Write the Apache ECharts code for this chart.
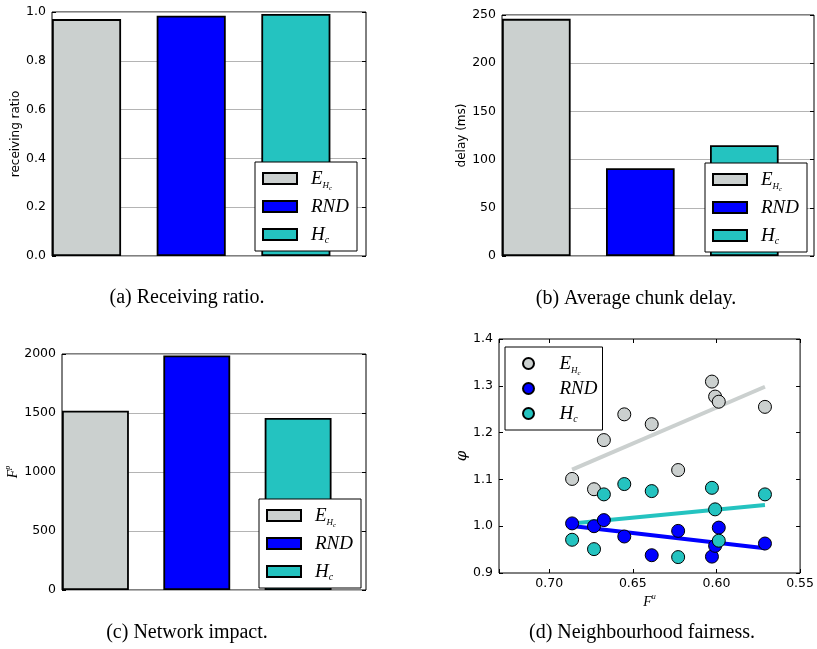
<!DOCTYPE html>
<html><head><meta charset="utf-8">
<script src="https://cdn.jsdelivr.net/npm/echarts@6/dist/echarts.min.js"></script>
<style>html,body{margin:0;padding:0;background:#fff}#c{width:817px;height:649px}</style>
</head><body><div id="c"></div>
<script>
// ---------- data ----------
const schemes = ['E_Hc', 'RND', 'H_c'];
const receivingRatio = [0.971, 0.985, 0.992];
const chunkDelay = [246, 91, 115];
const networkImpact = [1520, 1988, 1457];

const fuValues = [0.6863, 0.6732, 0.6673, 0.6551, 0.6387, 0.6229, 0.6027, 0.6008, 0.5986, 0.5710];
const phiEHc = [1.101, 1.079, 1.184, 1.239, 1.218, 1.120, 1.309, 1.277, 1.266, 1.255];
const phiRND = [1.006, 1.000, 1.013, 0.978, 0.938, 0.990, 0.935, 0.958, 0.997, 0.963];
const phiHc  = [0.971, 0.951, 1.068, 1.090, 1.075, 0.934, 1.082, 1.036, 0.969, 1.068];

const captions = ['(a) Receiving ratio.', '(b) Average chunk delay.', '(c) Network impact.', '(d) Neighbourhood fairness.'];

// ---------- styles ----------
const COLORS = { E_Hc: '#cbd0cf', RND: '#0000ff', H_c: '#24c3c0' };
const SERIF = 'Liberation Serif';
const SANS = 'DejaVu Sans';
const BAR_W = 0.66;

const grids = [
  { left: 52, top: 12, width: 314, height: 244 },
  { left: 502, top: 15, width: 312, height: 241 },
  { left: 62, top: 354, width: 304, height: 236 },
  { left: 499, top: 339, width: 302, height: 234 }
];

const it = (size, lh, pad) => ({ fontFamily: SERIF, fontStyle: 'italic', fontSize: size, lineHeight: lh, padding: pad, color: '#000' });
const legendRich = {
  E: it(19, 18, [4, 0, 4, 9]),
  Hs: it(9, 9, [16, 0, 1, 0]),
  cs: it(7, 7, [19, 0, 0, 0]),
  R: it(19, 18, [4, 0, 4, 9]),
  H: it(19, 18, [4, 0, 4, 9]),
  c: it(10, 10, [14, 0, 2, 0])
};
const labelFor = {
  E_Hc: '{E|E}{Hs|H}{cs|c}',
  RND: '{R|RND}',
  H_c: '{H|H}{c|c}'
};
const legendFormatter = name => labelFor[name.split('|')[1]];

const supRich = {
  F: it(14, 14, [4, 0, 0, 0]),
  s: it(8, 8, [2, 0, 8, 0])
};

const tickLabel = (fmt) => ({ color: '#000', fontFamily: SANS, fontSize: 12.5, margin: 6, formatter: fmt });
const tickStyle = { inside: true, length: 4, lineStyle: { color: '#000', width: 1 } };

// ---------- build ----------
const barPanels = [
  { values: receivingRatio, min: 0, max: 1, interval: 0.2, fmt: v => v.toFixed(1),
    name: 'receiving ratio', nameGap: 25, nameStyle: { fontFamily: SANS, fontSize: 12, color: '#000' }, legend: { left: 255, top: 162 } },
  { values: chunkDelay, min: 0, max: 250, interval: 50, fmt: v => String(v),
    name: 'delay (ms)', nameGap: 26, nameStyle: { fontFamily: SANS, fontSize: 12, color: '#000' }, legend: { left: 705, top: 163 } },
  { values: networkImpact, min: 0, max: 2000, interval: 500, fmt: v => String(v),
    name: '{F|F}{s|p}', nameGap: 35, nameStyle: { rich: supRich }, legend: { left: 259, top: 499 } }
];

const xAxis = [], yAxis = [], series = [], legend = [];

barPanels.forEach((p, pi) => {
  xAxis.push({ type: 'value', gridIndex: pi, min: 0, max: 3, show: false });
  yAxis.push({
    type: 'value', gridIndex: pi, min: p.min, max: p.max, interval: p.interval,
    axisLine: { show: false }, axisTick: tickStyle, axisLabel: tickLabel(p.fmt),
    splitLine: { show: true, lineStyle: { color: '#b4b4b4', width: 1 } },
    name: p.name, nameLocation: 'middle', nameGap: p.nameGap, nameTextStyle: p.nameStyle
  });
  yAxis.push({
    type: 'value', gridIndex: pi, position: 'right', min: p.min, max: p.max, interval: p.interval,
    axisLine: { show: false }, axisTick: tickStyle, axisLabel: { show: false }, splitLine: { show: false }
  });
  const bw = BAR_W * grids[pi].width / 3;
  schemes.forEach((s, si) => {
    series.push({
      type: 'bar', name: pi + '|' + s, xAxisIndex: pi, yAxisIndex: pi * 2,
      data: [[si + BAR_W / 2, p.values[si]]],
      barWidth: bw, barGap: '-100%',
      itemStyle: { color: COLORS[s], borderColor: '#000', borderWidth: 1.8 },
      emphasis: { disabled: true }
    });
  });
  legend.push({
    orient: 'vertical', left: p.legend.left, top: p.legend.top,
    data: schemes.map(s => pi + '|' + s), icon: 'rect', itemWidth: 34, itemHeight: 11, itemGap: 1,
    padding: [3, 8, 3, 7], borderColor: '#000', borderWidth: 1, backgroundColor: '#fff',
    formatter: legendFormatter, textStyle: { rich: legendRich }, selectedMode: false
  });
});

// scatter panel
const xFmt = v => (Math.abs(v * 20 - Math.round(v * 20)) < 1e-6 ? v.toFixed(2) : '');
xAxis.push({
  type: 'value', gridIndex: 3, min: 0.55, max: 0.73, interval: 0.05, inverse: true,
  axisLine: { show: false }, axisTick: tickStyle, axisLabel: Object.assign(tickLabel(xFmt), { margin: 4 }),
  splitLine: { show: false },
  name: '{F|F}{s|u}', nameLocation: 'middle', nameGap: 11, nameTextStyle: { rich: supRich }
});
xAxis.push({
  type: 'value', gridIndex: 3, position: 'top', min: 0.55, max: 0.73, interval: 0.05, inverse: true,
  axisLine: { show: false }, axisTick: tickStyle, axisLabel: { show: false }, splitLine: { show: false }
});
yAxis.push({
  type: 'value', gridIndex: 3, min: 0.9, max: 1.4, interval: 0.1,
  axisLine: { show: false }, axisTick: tickStyle, axisLabel: tickLabel(v => v.toFixed(1)),
  splitLine: { show: false },
  name: 'φ', nameLocation: 'middle', nameGap: 19,
  nameTextStyle: { fontFamily: 'DejaVu Serif', fontStyle: 'italic', fontSize: 15, color: '#000' }
});
yAxis.push({
  type: 'value', gridIndex: 3, position: 'right', min: 0.9, max: 1.4, interval: 0.1,
  axisLine: { show: false }, axisTick: tickStyle, axisLabel: { show: false }, splitLine: { show: false }
});

function linFit(xs, ys) {
  const n = xs.length;
  const mx = xs.reduce((a, b) => a + b, 0) / n;
  const my = ys.reduce((a, b) => a + b, 0) / n;
  let sxy = 0, sxx = 0;
  for (let i = 0; i < n; i++) { sxy += (xs[i] - mx) * (ys[i] - my); sxx += (xs[i] - mx) ** 2; }
  const k = sxy / sxx;
  const x0 = Math.min(...xs), x1 = Math.max(...xs);
  return [[x1, my + k * (x1 - mx)], [x0, my + k * (x0 - mx)]];
}

const phiBy = { E_Hc: phiEHc, RND: phiRND, H_c: phiHc };
schemes.forEach(s => {
  series.push({
    type: 'line', name: 'fit|' + s, xAxisIndex: 3, yAxisIndex: 6,
    data: linFit(fuValues, phiBy[s]), showSymbol: false, symbol: 'none',
    lineStyle: { color: COLORS[s], width: 4 }, z: 2, silent: true
  });
});
schemes.forEach(s => {
  series.push({
    type: 'scatter', name: '3|' + s, xAxisIndex: 3, yAxisIndex: 6,
    data: fuValues.map((x, i) => [x, phiBy[s][i]]), symbolSize: 13,
    itemStyle: { color: COLORS[s], borderColor: '#000', borderWidth: 1, opacity: 1 }, z: 3,
    emphasis: { disabled: true }
  });
});
legend.push({
  orient: 'vertical', left: 505, top: 347,
  data: schemes.map(s => '3|' + s), icon: 'circle', itemWidth: 34, itemHeight: 11, itemGap: -2,
  padding: [3, 5, 3, 17], borderColor: '#000', borderWidth: 1, backgroundColor: '#fff',
  formatter: legendFormatter, textStyle: { rich: legendRich }, selectedMode: false
});

const capPos = [[187, 298], [636, 299], [187, 633], [642, 633]];
const graphic = captions.map((t, i) => ({
  type: 'text', x: capPos[i][0], y: capPos[i][1],
  style: { text: t, font: '20px "Liberation Serif"', fill: '#000', textAlign: 'center', textVerticalAlign: 'middle' }
}));

const chart = echarts.init(document.getElementById('c'), null, { renderer: 'canvas' });
chart.setOption({
  animation: false,
  backgroundColor: '#fff',
  grid: grids.map(g => Object.assign({ show: true, borderColor: '#000', borderWidth: 1, backgroundColor: 'transparent', containLabel: false }, g)),
  xAxis, yAxis, series, legend, graphic
});
</script></body></html>
